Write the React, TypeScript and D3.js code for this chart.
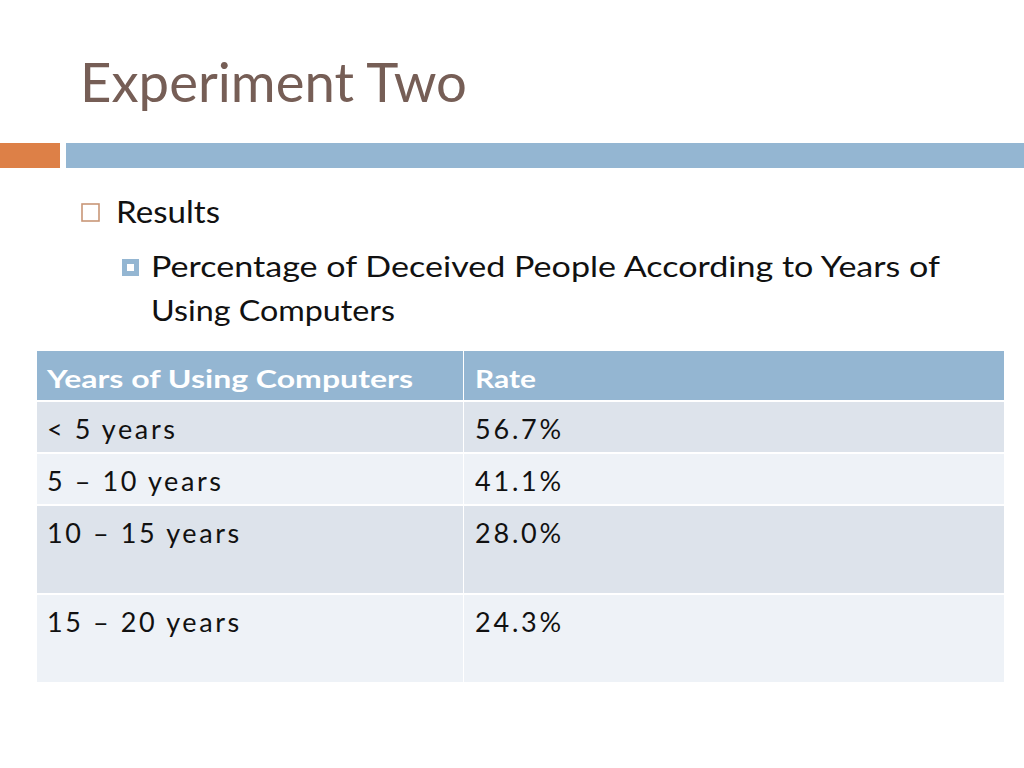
import React from "react";
import * as d3 from "d3";

const title = "Experiment Two";
const bullet1 = "Results";
const bullet2Lines = ["Percentage of Deceived People According to Years of", "Using Computers"];
const headers = ["Years of Using Computers", "Rate"];
const categories = ["< 5 years", "5 \u2013 10 years", "10 \u2013 15 years", "15 \u2013 20 years"];
const rates = [56.7, 41.1, 28.0, 24.3];

const W = 1024;
const H = 768;
const FONT = "Lato, 'Noto Sans', sans-serif";
const tableLeft = 37;
const tableRight = 1004;
const colSplit = 464;
const headerTop = 351;
const headerH = 49;
const gap = 2;
const rowHeights = [50, 50, 87, 87];

export default function App() {
  const fmt = d3.format(".1f");
  const tops = [headerTop + headerH + gap];
  rowHeights.forEach((h, i) => {
    if (i < rowHeights.length - 1) tops.push(tops[i] + h + gap);
  });
  const colX = d3.scaleOrdinal<string, number>().domain(["cat", "rate"]).range([tableLeft, colSplit]);
  const colW = d3.scaleOrdinal<string, number>().domain(["cat", "rate"]).range([colSplit - tableLeft - 1, tableRight - colSplit]);
  const rowFill = (i: number) => (i % 2 === 0 ? "#dde3eb" : "#eef2f7");

  return (
    <svg width={W} height={H} style={{ position: "absolute", left: 0, top: 0, background: "#fff" }} fontFamily={FONT}>
      <rect x={0} y={0} width={W} height={H} fill="#fff" />
      <text x={80} y={102} fontSize={54} fill="#765e56" textLength={387} lengthAdjust="spacingAndGlyphs">{title}</text>
      <rect x={0} y={143} width={60} height={25} fill="#dd8047" />
      <rect x={66} y={143} width={W - 66} height={25} fill="#94b6d2" />

      <rect x={82} y={204} width={17} height={17} fill="none" stroke="#c99677" strokeWidth={1.6} />
      <text x={116} y={223} fontSize={30} fill="#111" textLength={104} lengthAdjust="spacingAndGlyphs">{bullet1}</text>

      <rect x={122} y={259} width={17} height={17} fill="#94b6d2" />
      <rect x={127} y={264} width={7} height={7} fill="#fff" />
      {bullet2Lines.map((t, i) => (
        <text key={i} x={151} y={277 + i * 44} fontSize={28} fill="#111" textLength={i === 0 ? 789 : 244} lengthAdjust="spacingAndGlyphs">{t}</text>
      ))}

      <rect x={colX("cat")} y={headerTop} width={colW("cat")} height={headerH} fill="#94b6d2" />
      <rect x={colX("rate")} y={headerTop} width={colW("rate")} height={headerH} fill="#94b6d2" />
      <text x={47} y={388} fontSize={25} fontWeight="bold" fill="#fff" textLength={366} lengthAdjust="spacingAndGlyphs">{headers[0]}</text>
      <text x={475} y={388} fontSize={25} fontWeight="bold" fill="#fff" textLength={61} lengthAdjust="spacingAndGlyphs">{headers[1]}</text>

      {categories.map((c, i) => (
        <g key={c}>
          <rect x={colX("cat")} y={tops[i]} width={colW("cat")} height={rowHeights[i]} fill={rowFill(i)} />
          <rect x={colX("rate")} y={tops[i]} width={colW("rate")} height={rowHeights[i]} fill={rowFill(i)} />
          <text x={47} y={tops[i] + 37} fontSize={27} fill="#111" letterSpacing={2.6}>{c}</text>
          <text x={475} y={tops[i] + 37} fontSize={27} fill="#111" letterSpacing={2.8}>{fmt(rates[i]) + "%"}</text>
        </g>
      ))}
    </svg>
  );
}
